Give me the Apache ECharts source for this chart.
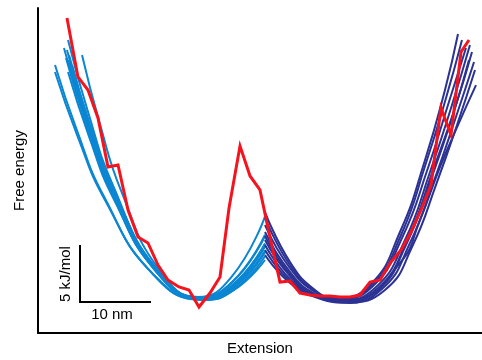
<!DOCTYPE html>
<html><head><meta charset="utf-8">
<script src="https://cdn.jsdelivr.net/npm/echarts@6/dist/echarts.min.js"></script>
<style>html,body{margin:0;padding:0;background:#fff}#c{width:482px;height:360px}</style>
</head><body><div id="c"></div>
<script>
// Units: extension in nm, free energy in kJ/mol (read against the scale bar)
const lightCurves = [
  [[2.43,23.93],[5.54,18.13],[9.47,12.14],[16.31,5.32],[23.14,3.04],[27.79,4.09],[32.43,7.23]],
  [[2.43,23.30],[5.60,17.65],[9.62,11.81],[16.59,5.17],[23.57,2.95],[28.0,3.84],[32.43,6.52]],
  [[3.71,25.45],[6.67,19.26],[10.41,12.85],[16.92,5.56],[23.43,3.13],[27.93,4.29],[32.43,7.78]],
  [[4.29,26.16],[7.12,19.79],[10.70,13.21],[16.92,5.71],[23.14,3.21],[27.79,4.60],[32.43,8.78]],
  [[4.43,24.82],[7.28,18.80],[10.89,12.58],[17.16,5.49],[23.43,3.13],[27.93,4.35],[32.43,8.0]],
  [[4.29,24.38],[7.20,18.46],[10.89,12.34],[17.30,5.37],[23.71,3.04],[28.07,4.12],[32.43,7.34]],
  [[4.57,24.11],[7.46,18.26],[11.13,12.22],[17.49,5.34],[23.86,3.04],[28.15,4.08],[32.43,7.20]],
  [[6.29,24.82],[8.78,18.82],[11.92,12.62],[17.39,5.57],[22.86,3.21],[27.65,5.01],[32.43,10.42]],
  [[4.29,23.30],[7.23,17.65],[10.94,11.81],[17.40,5.17],[23.86,2.95],[28.15,3.93],[32.43,6.85]],
  [[4.86,23.93],[7.67,18.13],[11.22,12.14],[17.40,5.32],[23.57,3.04],[28.0,4.21],[32.43,7.73]],
  [[4.00,24.55],[6.89,18.61],[10.56,12.46],[16.92,5.46],[23.29,3.13],[27.86,4.33],[32.43,7.94]],
  [[4.14,25.27],[6.97,19.13],[10.55,12.77],[16.78,5.54],[23.0,3.13],[27.72,4.51],[32.43,8.66]]
];
const darkCurves = [
  [[32.43,10.80],[36.0,6.34],[39.57,3.84],[42.43,3.13],[47.43,4.29],[51.71,9.02],[55.29,15.45],[58.14,21.70],[60.0,26.70]],
  [[32.43,9.64],[36.0,5.80],[39.57,3.66],[42.86,3.04],[47.71,4.11],[52.0,8.48],[55.71,14.73],[58.57,20.36],[61.14,25.45]],
  [[32.43,9.02],[36.0,5.45],[39.57,3.48],[43.14,2.95],[48.14,4.02],[52.43,8.30],[56.0,14.38],[59.14,20.36],[61.71,25.71]],
  [[32.43,8.30],[36.0,5.09],[39.57,3.39],[43.43,2.95],[48.57,4.02],[52.86,8.48],[56.43,14.55],[59.57,20.09],[62.0,25.09]],
  [[32.43,8.66],[36.0,5.27],[40.0,3.30],[43.57,2.86],[48.57,3.84],[52.57,7.86],[56.0,13.48],[59.14,19.20],[61.57,24.38]],
  [[32.43,6.96],[36.0,4.46],[40.0,3.13],[44.57,2.68],[51.71,6.25],[54.57,10.09],[57.43,14.82],[60.0,18.57],[62.57,22.14]],
  [[32.43,7.86],[36.0,4.82],[39.71,3.30],[43.86,2.77],[49.14,3.93],[53.14,8.04],[56.71,13.84],[59.71,19.29],[62.29,24.20]],
  [[32.43,10.27],[36.0,6.07],[39.57,3.75],[42.71,3.13],[47.57,4.20],[51.86,8.75],[55.43,15.18],[58.29,20.98],[60.57,26.16]],
  [[32.43,7.41],[36.0,4.64],[40.0,3.21],[44.14,2.77],[49.57,3.84],[53.43,7.68],[57.0,13.48],[59.86,18.57],[62.43,23.48]]
];
const redX = [4.14,5.71,7.14,8.57,10.0,11.43,12.86,14.29,15.71,17.14,18.57,20.14,21.57,23.0,24.57,26.0,27.29,28.86,30.29,31.71,33.14,34.57,36.0,37.43,38.86,40.29,41.71,43.14,44.57,46.0,47.43,48.86,50.43,51.86,53.29,54.71,56.14,57.57,59.0,60.43,61.57];
const redY = [28.13,22.86,21.7,19.2,14.82,15.0,10.98,8.57,8.04,6.07,4.73,4.11,3.84,2.32,3.57,5.0,11.16,16.7,14.02,12.77,8.57,4.55,4.64,3.57,3.39,3.30,3.30,3.21,3.21,3.39,4.55,4.73,6.34,7.41,9.02,10.98,13.21,20.09,17.68,25.09,26.16];
// scale bar: 10 nm by 5 kJ/mol
const scaleOrigin = [6, 2.77];
const scaleNm = 10;
const scaleKJ = 5;

const chart = echarts.init(document.getElementById('c'), null, {renderer:'canvas'});
const series = [];
lightCurves.forEach(c => series.push({type:'line', data:c, smooth:0.5, showSymbol:false, silent:true,
  lineStyle:{color:'#0a86d2', width:2}, z:2}));
darkCurves.forEach(c => series.push({type:'line', data:c, smooth:0.5, showSymbol:false, silent:true,
  lineStyle:{color:'#2b3293', width:2}, z:3}));
series.push({type:'line', data:redX.map((x,i)=>[x,redY[i]]), showSymbol:false, silent:true,
  lineStyle:{color:'#f5141e', width:3, join:'miter'}, z:5});
series.push({type:'line', data:[[scaleOrigin[0],scaleOrigin[1]+scaleKJ],scaleOrigin,[scaleOrigin[0]+scaleNm,scaleOrigin[1]]],
  showSymbol:false, silent:true, lineStyle:{color:'#000', width:2, join:'miter', cap:'square'}, z:6});

const font = 'Liberation Sans, Arial, Helvetica, sans-serif';
chart.setOption({
  animation:false,
  grid:{left:38, right:0, top:8, bottom:27, containLabel:false, outerBoundsMode:'none'},
  xAxis:{type:'value', min:0, max:63.43, name:'Extension', nameLocation:'middle', nameGap:8,
    nameTextStyle:{color:'#000', fontSize:15, fontFamily:font},
    axisLine:{show:true, onZero:false, lineStyle:{color:'#000', width:2}}, axisTick:{show:false}, axisLabel:{show:false}, splitLine:{show:false}},
  yAxis:{type:'value', min:0, max:29.02, name:'Free energy', nameLocation:'middle', nameGap:11,
    nameTextStyle:{color:'#000', fontSize:15, fontFamily:font},
    axisLine:{show:true, onZero:false, lineStyle:{color:'#000', width:2}}, axisTick:{show:false}, axisLabel:{show:false}, splitLine:{show:false}},
  series:series
});
const pV = chart.convertToPixel({gridIndex:0}, [scaleOrigin[0], scaleOrigin[1]+scaleKJ/2]);
const pH = chart.convertToPixel({gridIndex:0}, [scaleOrigin[0]+scaleNm/2, scaleOrigin[1]]);
chart.setOption({graphic:[
  {type:'text', x:pV[0]-14, y:pV[1], rotation:Math.PI/2, style:{text:'5 kJ/mol', fill:'#000', font:'15px '+font, align:'center', verticalAlign:'middle'}},
  {type:'text', x:pH[0]-3, y:pH[1]+13, style:{text:'10 nm', fill:'#000', font:'15px '+font, align:'center', verticalAlign:'middle'}}
]});
</script></body></html>
